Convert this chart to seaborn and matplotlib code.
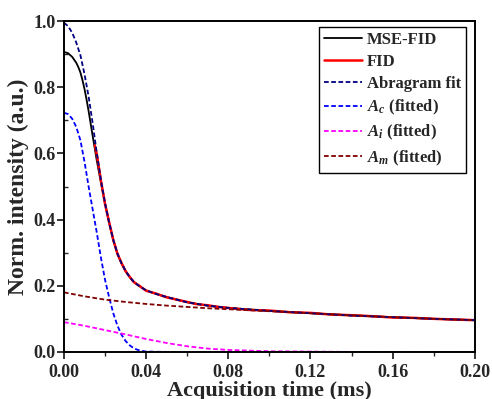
import numpy as np
import pandas as pd
import seaborn as sns
import matplotlib.pyplot as plt
from matplotlib.ticker import MultipleLocator

# values
t_mse = [0.0, 0.002, 0.004, 0.006, 0.007, 0.008, 0.009, 0.010, 0.011, 0.012,
         0.013, 0.014, 0.016, 0.018, 0.020, 0.022, 0.024, 0.026, 0.028, 0.030,
         0.032, 0.034, 0.036, 0.040, 0.045, 0.050, 0.060, 0.070, 0.080, 0.100,
         0.120, 0.140, 0.160, 0.180, 0.200]
mse_fid = [0.907, 0.903, 0.892, 0.874, 0.861, 0.845, 0.822, 0.795, 0.763, 0.728,
           0.690, 0.652, 0.578, 0.512, 0.449, 0.390, 0.338, 0.298, 0.268, 0.245,
           0.226, 0.212, 0.202, 0.186, 0.175, 0.166, 0.150, 0.140, 0.133, 0.124,
           0.117, 0.110, 0.105, 0.100, 0.096]

t_fid = [0.015, 0.016, 0.018, 0.020, 0.022, 0.024, 0.026, 0.028, 0.030, 0.032,
         0.034, 0.036, 0.040, 0.045, 0.050, 0.055, 0.060, 0.065, 0.070, 0.075,
         0.080, 0.090, 0.100, 0.110, 0.120, 0.130, 0.140, 0.150, 0.160, 0.170,
         0.180, 0.190, 0.200]
fid = [0.625, 0.597, 0.518, 0.447, 0.392, 0.339, 0.297, 0.269, 0.244, 0.227,
       0.211, 0.203, 0.185, 0.176, 0.165, 0.158, 0.151, 0.144, 0.141, 0.136,
       0.133, 0.127, 0.125, 0.120, 0.118, 0.113, 0.111, 0.108, 0.104, 0.103,
       0.100, 0.098, 0.096]

t_fit = [0.0, 0.002, 0.004, 0.006, 0.008, 0.010, 0.012, 0.014, 0.016, 0.018,
         0.020, 0.022, 0.024, 0.026, 0.028, 0.030, 0.032, 0.034, 0.036, 0.040,
         0.045, 0.050, 0.060, 0.070, 0.080, 0.100, 0.120, 0.140, 0.160, 0.180, 0.200]
abragram_fit = [0.995, 0.985, 0.965, 0.935, 0.897, 0.840, 0.772, 0.690, 0.600, 0.520,
                0.449, 0.391, 0.339, 0.298, 0.268, 0.245, 0.226, 0.212, 0.202, 0.186,
                0.175, 0.166, 0.150, 0.140, 0.133, 0.124, 0.117, 0.110, 0.105, 0.100, 0.096]

t_c = [0.0, 0.002, 0.004, 0.006, 0.008, 0.010, 0.012, 0.014, 0.016, 0.018,
       0.020, 0.022, 0.024, 0.026, 0.028, 0.030, 0.032, 0.034, 0.036, 0.038,
       0.040, 0.050, 0.100, 0.150, 0.200]
a_c = [0.723, 0.719, 0.705, 0.680, 0.640, 0.575, 0.500, 0.430, 0.360, 0.285,
       0.218, 0.165, 0.117, 0.080, 0.052, 0.033, 0.020, 0.011, 0.006, 0.003,
       0.001, 0.0, 0.0, 0.0, 0.0]

t_i = [0.0, 0.010, 0.020, 0.030, 0.040, 0.050, 0.060, 0.070, 0.080, 0.090,
       0.100, 0.120, 0.140, 0.160, 0.180, 0.200]
a_i = [0.090, 0.079, 0.066, 0.053, 0.039, 0.027, 0.017, 0.010, 0.006, 0.004,
       0.002, 0.001, 0.0, 0.0, 0.0, 0.0]

t_m = [0.0, 0.010, 0.020, 0.030, 0.040, 0.050, 0.060, 0.070, 0.080, 0.100,
       0.120, 0.140, 0.160, 0.180, 0.200]
a_m = [0.180, 0.168, 0.158, 0.151, 0.145, 0.140, 0.136, 0.132, 0.129, 0.123,
       0.117, 0.111, 0.105, 0.100, 0.096]

sns.set_style('ticks')
plt.rcParams['font.family'] = ['Liberation Serif', 'DejaVu Serif']
plt.rcParams['font.weight'] = 'bold'
plt.rcParams['mathtext.fontset'] = 'custom'
plt.rcParams['mathtext.it'] = 'Liberation Serif:italic:bold'
plt.rcParams['mathtext.rm'] = 'Liberation Serif:bold'

fig = plt.figure(figsize=(4.92, 3.99), dpi=100)
ax = fig.add_axes([0.130, 0.118, 0.835, 0.829])

lw = 1.3
dash = (2.6, 1.4)
sns.lineplot(x=t_mse, y=mse_fid, ax=ax, color='black', lw=lw, label='MSE-FID')
sns.lineplot(x=t_fid, y=fid, ax=ax, color='red', lw=1.8, label='FID')
sns.lineplot(x=t_fit, y=abragram_fit, ax=ax, color='#000080', lw=lw,
             dashes=dash, label='Abragram fit')
sns.lineplot(x=t_c, y=a_c, ax=ax, color='blue', lw=lw, dashes=dash,
             label=r'$A_c$ (fitted)')
sns.lineplot(x=t_i, y=a_i, ax=ax, color='magenta', lw=lw, dashes=dash,
             label=r'$A_i$ (fitted)')
sns.lineplot(x=t_m, y=a_m, ax=ax, color='#800000', lw=lw, dashes=dash,
             label=r'$A_m$ (fitted)')

ax.set_xlim(0, 0.2)
ax.set_ylim(0, 1.0)
ax.xaxis.set_major_locator(MultipleLocator(0.04))
ax.xaxis.set_minor_locator(MultipleLocator(0.02))
ax.yaxis.set_major_locator(MultipleLocator(0.2))
ax.yaxis.set_minor_locator(MultipleLocator(0.1))
ax.set_xticklabels([f'{v:.2f}' for v in ax.get_xticks()])
ax.set_yticklabels([f'{v:.1f}' for v in ax.get_yticks()])
ax.tick_params(which='major', direction='out', length=5, width=1.3, labelsize=13)
ax.tick_params(axis='x', which='major', pad=3.5)
ax.tick_params(axis='y', which='major', pad=1)
ax.tick_params(axis='x', which='minor', direction='out', length=3, width=1.0)
ax.tick_params(axis='y', which='minor', direction='in', length=3, width=1.0)
for s in ax.spines.values():
    s.set_visible(True)
    s.set_linewidth(1.4)
    s.set_color('black')

ax.set_xlabel('Acquisition time (ms)', fontsize=16, fontweight='bold', labelpad=0)
ax.set_ylabel('Norm. intensity (a.u.)', fontsize=17, fontweight='bold', labelpad=3)

leg = ax.legend(loc='upper right', bbox_to_anchor=(466 / 492, 1 - 27 / 399),
                bbox_transform=fig.transFigure, fontsize=12, frameon=True,
                fancybox=False, edgecolor='black', handlelength=2.3,
                handletextpad=0.3, labelspacing=0.36, borderpad=0.3,
                borderaxespad=0)
leg.get_frame().set_linewidth(1.0)
leg.get_frame().set_alpha(1)

fig.savefig('out.png', dpi=100)
